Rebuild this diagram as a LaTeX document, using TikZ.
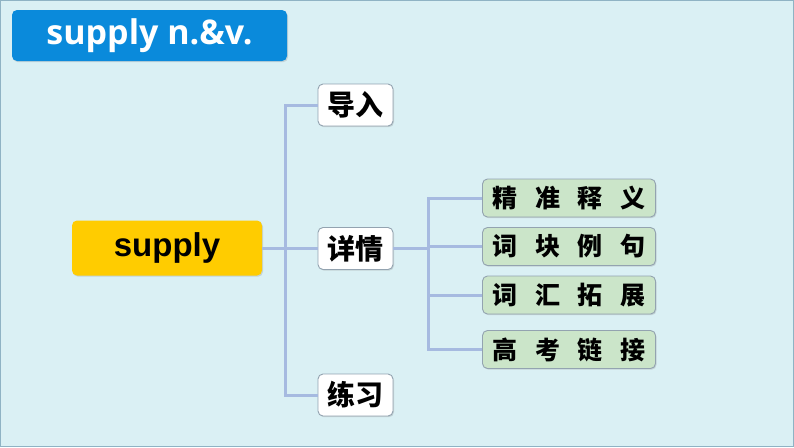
\documentclass[tikz,border=0pt]{standalone}
\usepackage{fontspec}
\setmainfont{Liberation Sans}
\newfontfamily\titlefont{Open Sans}
\newfontfamily\cjk{Noto Sans CJK SC}[BoldFont={Noto Sans CJK SC Black}]
\usetikzlibrary{shadows}
\definecolor{bgc}{HTML}{DAF0F4}
\definecolor{framec}{HTML}{8FB3C4}
\definecolor{titlec}{HTML}{0A8ADB}
\definecolor{yellowc}{HTML}{FFCC00}
\definecolor{greenc}{HTML}{CBE5C9}
\definecolor{linec}{HTML}{A6BAE0}
\definecolor{edgec}{HTML}{93A3B0}
\tikzset{
  box/.style={rounded corners=5pt, draw=edgec, line width=0.9pt, inner sep=0pt, anchor=center,
    drop shadow={shadow xshift=1pt, shadow yshift=-1.2pt, opacity=0.25, fill=gray}},
  whitebox/.style={box, fill=white, minimum width=75pt, minimum height=42pt,
    font=\cjk\bfseries\fontsize{28}{28}\selectfont},
  greenbox/.style={box, fill=greenc, minimum width=173pt, minimum height=38pt,
    font=\cjk\bfseries\fontsize{25}{25}\selectfont},
  conn/.style={draw=linec, line width=3pt},
}
\newcommand{\gsp}{\kern17.5pt}
\begin{document}
\begin{tikzpicture}[x=1pt,y=-1pt]
\useasboundingbox (0,0) rectangle (794,447);
\fill[bgc] (0,0) rectangle (794,447);
\draw[framec, line width=1pt] (0.5,0.5) rectangle (793.5,446.5);

\node[box, draw=none, fill=titlec, minimum width=275pt, minimum height=51pt,
  text=white, font=\titlefont\bfseries\fontsize{34}{34}\selectfont] (title) at (149.5,35.5) {supply n.\&v.};

\node[box, draw=none, fill=yellowc, minimum width=190pt, minimum height=55pt,
  font=\bfseries\fontsize{33}{33}\selectfont] (sp) at (167,248) {supply};

\node[whitebox] (dr) at (355.5,105) {导入};
\node[whitebox] (xq) at (355.5,248.5) {详情};
\node[whitebox] (lx) at (355.5,395) {练习};

\node[greenbox] (g1) at (569,198) {精\gsp 准\gsp 释\gsp 义};
\node[greenbox] (g2) at (569,246.5) {词\gsp 块\gsp 例\gsp 句};
\node[greenbox] (g3) at (569,295) {词\gsp 汇\gsp 拓\gsp 展};
\node[greenbox] (g4) at (569,349.5) {高\gsp 考\gsp 链\gsp 接};

\coordinate (t1) at (285,105);
\coordinate (j) at (428,248.5);

\draw[conn] (dr.west) -- (t1) |- (lx.west);
\draw[conn] (sp.east) -- (sp.east -| xq.west);
\draw[conn] (xq.east) -- (j);
\draw[conn] (g1.west) -| (j) |- (g4.west);
\draw[conn] (j |- g2.west) -- (g2.west);
\draw[conn] (j |- g3.west) -- (g3.west);
\end{tikzpicture}
\end{document}
